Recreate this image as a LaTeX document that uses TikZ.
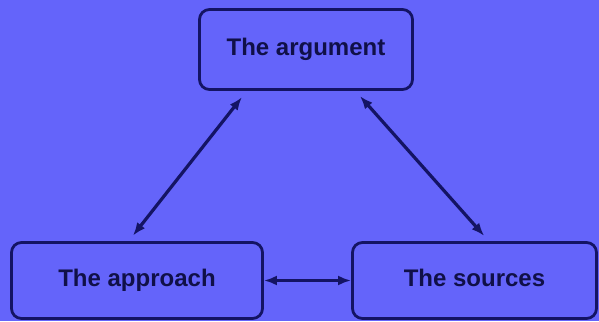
\documentclass[tikz,border=0pt]{standalone}
\usepackage{fontspec}
\setmainfont{Liberation Sans}
\usepackage{xcolor}
\usepackage{tikz}
\usetikzlibrary{arrows.meta}
\definecolor{bgblue}{RGB}{100,100,250}
\definecolor{edgenavy}{RGB}{20,20,100}
\definecolor{textnavy}{RGB}{16,16,72}

\begin{document}
\begin{tikzpicture}[x=1pt,y=1pt,
    topic/.style={draw=edgenavy,line width=2.8pt,rounded corners=10pt,
      text=textnavy,text height=17pt,text depth=5pt,
      font=\fontsize{24}{28}\selectfont\bfseries},
    link/.style={{Latex[length=13pt,width=10pt]}-{Latex[length=13pt,width=10pt]},
      draw=edgenavy,line width=3.2pt}]
    \fill[bgblue] (0,0) rectangle (599,321);
    \useasboundingbox (0,0) rectangle (599,321);
    \node[topic,minimum width=213pt,minimum height=80pt] (arg) at (306,271.5) {The argument};
    \node[topic,minimum width=251pt,minimum height=76pt] (appr) at (137,40.5) {The approach};
    \node[topic,minimum width=244pt,minimum height=76pt] (src) at (474.5,40.5) {The sources};
    \draw[link,shorten <=8pt,shorten >=7pt] (arg.215) -- (appr.102);
    \draw[link,shorten <=7pt,shorten >=7pt] (arg.320) -- (src.70);
    \draw[link] (appr.east) -- (src.west);
  \end{tikzpicture}
\end{document}
